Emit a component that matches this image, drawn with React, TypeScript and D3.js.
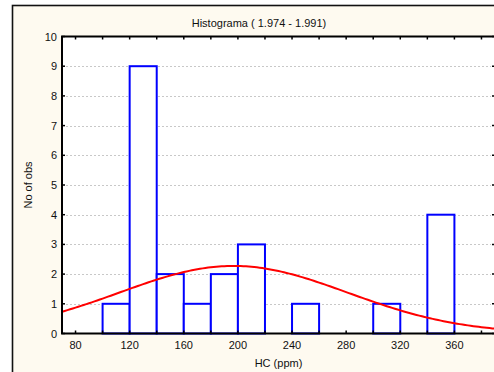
import React, { useEffect, useRef } from "react";
import * as d3 from "d3";

// histogram bins (lower edge, width 20) and counts
const binStarts = [100, 120, 140, 160, 180, 200, 220, 240, 260, 280, 300, 320, 340];
const counts = [1, 9, 2, 1, 2, 3, 0, 1, 0, 0, 1, 0, 4];
const binWidth = 20;
const xTicks = [80, 120, 160, 200, 240, 280, 320, 360];
const yTicks = [0, 1, 2, 3, 4, 5, 6, 7, 8, 9, 10];
// fitted normal curve parameters
const fitMean = 196.7;
const fitSd = 84.2;

const App = () => {
  const ref = useRef<SVGSVGElement>(null);

  useEffect(() => {
    const svg = d3.select(ref.current);
    svg.selectAll("*").remove();

    const font = "'Liberation Sans', Arial, sans-serif";
    const left = 62, right = 495, top = 36.5, bottom = 333.5;

    // outer frame
    svg.append("rect")
      .attr("x", 12.5).attr("y", 5.5)
      .attr("width", 500).attr("height", 400)
      .attr("fill", "#fefaf0")
      .attr("stroke", "#111")
      .attr("stroke-width", 1.6);

    const x = d3.scaleLinear().domain([70, 390]).range([left, right]);
    const y = d3.scaleLinear().domain([0, 10]).range([bottom, top]);

    svg.append("rect")
      .attr("x", left).attr("y", top)
      .attr("width", right - left).attr("height", bottom - top)
      .attr("fill", "white");

    // grid
    svg.append("g")
      .selectAll("line")
      .data(yTicks.slice(1, -1))
      .enter()
      .append("line")
      .attr("x1", left + 4).attr("x2", right - 4)
      .attr("y1", (d) => Math.round(y(d)) + 0.5)
      .attr("y2", (d) => Math.round(y(d)) + 0.5)
      .attr("stroke", "#c8c8c8")
      .attr("stroke-dasharray", "2,2");

    // bars
    const total = d3.sum(counts);
    svg.append("g")
      .selectAll("rect")
      .data(binStarts.map((s, i) => ({ s, c: counts[i] })).filter((d) => d.c > 0))
      .enter()
      .append("rect")
      .attr("x", (d) => x(d.s))
      .attr("y", (d) => y(d.c))
      .attr("width", (d) => x(d.s + binWidth) - x(d.s))
      .attr("height", (d) => y(0) - y(d.c))
      .attr("fill", "white")
      .attr("stroke", "#0000ff")
      .attr("stroke-width", 2);

    // normal fit
    const pdf = (v: number) =>
      (total * binWidth) / (fitSd * Math.sqrt(2 * Math.PI)) *
      Math.exp(-0.5 * ((v - fitMean) / fitSd) ** 2);
    const xs = d3.range(70, 390.1, 2);
    svg.append("path")
      .datum(xs)
      .attr("d", d3.line<number>().x((d) => x(d)).y((d) => y(pdf(d)))(xs) as string)
      .attr("fill", "none")
      .attr("stroke", "#ff0000")
      .attr("stroke-width", 2);

    // axes frame
    svg.append("rect")
      .attr("x", left).attr("y", top)
      .attr("width", right - left).attr("height", bottom - top)
      .attr("fill", "none")
      .attr("stroke", "#000")
      .attr("stroke-width", 2);

    // ticks
    const minor = d3.range(80, 390, 20);
    svg.append("g")
      .selectAll("line.tt")
      .data(minor)
      .enter()
      .append("line")
      .attr("x1", (d) => x(d)).attr("x2", (d) => x(d))
      .attr("y1", top).attr("y2", top + 3)
      .attr("stroke", "#000").attr("stroke-width", 1.5);
    svg.append("g")
      .selectAll("line.bt")
      .data(minor)
      .enter()
      .append("line")
      .attr("x1", (d) => x(d)).attr("x2", (d) => x(d))
      .attr("y1", bottom).attr("y2", bottom - 3)
      .attr("stroke", "#000").attr("stroke-width", 1.5);
    svg.append("g")
      .selectAll("line.yt")
      .data(yTicks)
      .enter()
      .append("line")
      .attr("x1", left).attr("x2", left + 3)
      .attr("y1", (d) => y(d)).attr("y2", (d) => y(d))
      .attr("stroke", "#000").attr("stroke-width", 1.5);
    svg.append("g")
      .selectAll("line.yr")
      .data(yTicks)
      .enter()
      .append("line")
      .attr("x1", right).attr("x2", right - 3)
      .attr("y1", (d) => y(d)).attr("y2", (d) => y(d))
      .attr("stroke", "#000").attr("stroke-width", 1.5);

    // tick labels
    svg.append("g")
      .selectAll("text")
      .data(yTicks)
      .enter()
      .append("text")
      .attr("x", left - 5)
      .attr("y", (d) => y(d) + 4)
      .attr("text-anchor", "end")
      .attr("font-family", font)
      .attr("font-size", 11)
      .attr("fill", "#111")
      .text((d) => d);
    svg.append("g")
      .selectAll("text")
      .data(xTicks)
      .enter()
      .append("text")
      .attr("x", (d) => x(d))
      .attr("y", 349)
      .attr("text-anchor", "middle")
      .attr("font-family", font)
      .attr("font-size", 11)
      .attr("fill", "#111")
      .text((d) => d);

    // titles
    svg.append("text")
      .attr("x", 259).attr("y", 27)
      .attr("text-anchor", "middle")
      .attr("font-family", font)
      .attr("font-size", 11)
      .attr("fill", "#111")
      .text("Histograma ( 1.974 - 1.991)");
    svg.append("text")
      .attr("x", (left + right) / 2).attr("y", 367)
      .attr("text-anchor", "middle")
      .attr("font-family", font)
      .attr("font-size", 11)
      .attr("fill", "#111")
      .text("HC (ppm)");
    svg.append("text")
      .attr("transform", `translate(32,${(top + bottom) / 2}) rotate(-90)`)
      .attr("text-anchor", "middle")
      .attr("font-family", font)
      .attr("font-size", 11)
      .attr("fill", "#111")
      .text("No of obs");
  }, []);

  return (
    <svg
      ref={ref}
      width={494}
      height={372}
      style={{ position: "absolute", left: 0, top: 0, background: "white" }}
    ></svg>
  );
};

export default App;
